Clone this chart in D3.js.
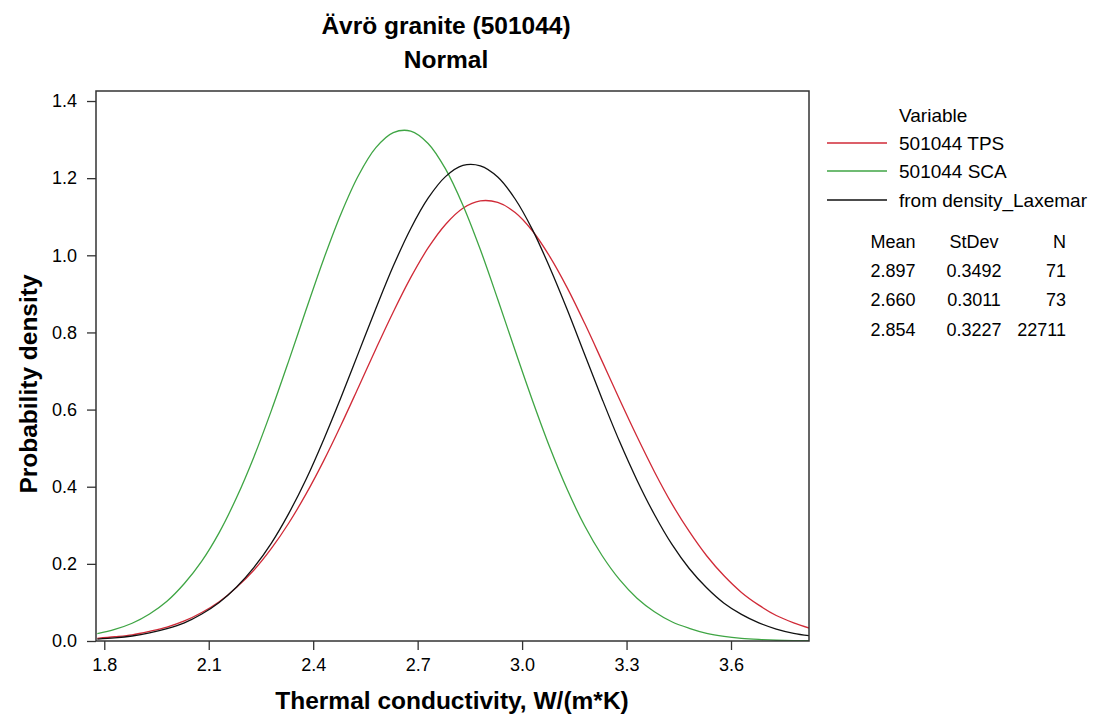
<!DOCTYPE html>
<html>
<head>
<meta charset="utf-8">
<script src="https://d3js.org/d3.v7.min.js"></script>
<style>
body { margin:0; background:#fff; }
text { font-family: "Liberation Sans", Arial, Helvetica, sans-serif; fill:#000; }
</style>
</head>
<body>
<div id="chart"></div>
<script>
// 곡선 데이터
var xVals = [1.78,1.83,1.88,1.93,1.98,2.03,2.08,2.13,2.18,2.23,2.28,2.33,2.38,2.43,2.48,2.53,2.58,2.63,2.68,2.73,2.78,2.83,2.88,2.93,2.98,3.03,3.08,3.13,3.18,3.23,3.28,3.33,3.38,3.43,3.48,3.53,3.58,3.63,3.68,3.73,3.78,3.83];

var tpsVals = [0.007,0.011,0.016,0.025,0.036,0.052,0.074,0.102,0.139,0.184,0.240,0.306,0.382,0.467,0.560,0.658,0.757,0.853,0.942,1.019,1.080,1.122,1.141,1.137,1.111,1.063,0.996,0.915,0.823,0.725,0.626,0.530,0.439,0.356,0.284,0.221,0.169,0.126,0.093,0.066,0.047,0.032];

var scaVals = [0.019,0.030,0.046,0.070,0.103,0.149,0.207,0.281,0.372,0.478,0.598,0.727,0.860,0.990,1.108,1.207,1.279,1.318,1.322,1.290,1.224,1.130,1.015,0.886,0.753,0.623,0.501,0.392,0.298,0.221,0.159,0.111,0.076,0.050,0.033,0.020,0.012,0.007,0.004,0.002,0.001,0.001];

var laxVals = [0.005,0.008,0.013,0.021,0.032,0.047,0.070,0.100,0.140,0.191,0.254,0.331,0.420,0.522,0.632,0.747,0.862,0.972,1.069,1.148,1.204,1.233,1.232,1.203,1.146,1.066,0.967,0.858,0.742,0.627,0.517,0.417,0.328,0.251,0.188,0.138,0.098,0.069,0.047,0.031,0.020,0.013];

var seriesNames = ["501044 TPS","501044 SCA","from density_Laxemar"];
var seriesColors = ["#d02a37","#3fa544","#111111"];

var statHeader = ["Mean","StDev","N"];
var statMean = ["2.897","2.660","2.854"];
var statStDev = ["0.3492","0.3011","0.3227"];
var statN = ["71","73","22711"];

var xTicks = [1.8,2.1,2.4,2.7,3.0,3.3,3.6];
var yTicks = [0.0,0.2,0.4,0.6,0.8,1.0,1.2,1.4];

var W = 1099, H = 718;
var plot = {left:96, right:809, top:91, bottom:641};

var svg = d3.select("#chart").append("svg")
	.attr("width", W)
	.attr("height", H);

var x = d3.scaleLinear().domain([1.7762, 3.824]).range([plot.left, plot.right]);
var y = d3.scaleLinear().domain([0, 1.4]).range([plot.bottom, plot.bottom - 1.4*385.7]);

// 제목
svg.append("text")
	.attr("x", 446).attr("y", 34)
	.attr("text-anchor", "middle")
	.attr("font-size", "24.5px").attr("font-weight", "bold")
	.text("Ävrö granite (501044)");
svg.append("text")
	.attr("x", 446).attr("y", 68)
	.attr("text-anchor", "middle")
	.attr("font-size", "24.5px").attr("font-weight", "bold")
	.text("Normal");

// 곡선
svg.append("clipPath").attr("id", "clip")
	.append("rect")
	.attr("x", plot.left).attr("y", plot.top)
	.attr("width", plot.right - plot.left).attr("height", plot.bottom - plot.top);

var lineGen = d3.line()
	.x(function(d){ return x(d[0]); })
	.y(function(d){ return y(d[1]); })
	.curve(d3.curveCatmullRom);

[tpsVals, scaVals, laxVals].forEach(function(vals, i){
	var pts = xVals.map(function(v, j){ return [v, vals[j]]; });
	svg.append("path")
		.attr("clip-path", "url(#clip)")
		.attr("d", lineGen(pts))
		.attr("fill", "none")
		.attr("stroke", seriesColors[i])
		.attr("stroke-width", 1.3);
});

// 축 틀
svg.append("rect")
	.attr("x", plot.left).attr("y", plot.top)
	.attr("width", plot.right - plot.left).attr("height", plot.bottom - plot.top)
	.attr("fill", "none").attr("stroke", "#333").attr("stroke-width", 1.5);

var xAxis = svg.append("g")
	.attr("transform", "translate(0," + plot.bottom + ")")
	.call(d3.axisBottom(x).tickValues(xTicks).tickSize(9).tickPadding(8).tickFormat(d3.format(".1f")));
var yAxis = svg.append("g")
	.attr("transform", "translate(" + plot.left + ",0)")
	.call(d3.axisLeft(y).tickValues(yTicks).tickSize(9).tickPadding(10).tickFormat(d3.format(".1f")));

[xAxis, yAxis].forEach(function(g){
	g.select(".domain").remove();
	g.selectAll(".tick line").attr("stroke", "#333").attr("stroke-width", 1.3);
	g.selectAll(".tick text").attr("font-size", "18px").attr("fill", "#000")
		.style("font-family", "'Liberation Sans', Arial, sans-serif");
});

svg.append("text")
	.attr("x", 452).attr("y", 709)
	.attr("text-anchor", "middle")
	.attr("font-size", "24.5px").attr("font-weight", "bold")
	.text("Thermal conductivity, W/(m*K)");
svg.append("text")
	.attr("transform", "translate(37,384) rotate(-90)")
	.attr("text-anchor", "middle")
	.attr("font-size", "24.5px").attr("font-weight", "bold")
	.text("Probability density");

// 범례
var legend = svg.append("g").attr("class", "legend");
legend.append("text")
	.attr("x", 899).attr("y", 122)
	.attr("font-size", "19px")
	.text("Variable");
var legendY = [143, 171, 200];
seriesNames.forEach(function(name, i){
	legend.append("line")
		.attr("x1", 827).attr("x2", 887)
		.attr("y1", legendY[i]).attr("y2", legendY[i])
		.attr("stroke", seriesColors[i]).attr("stroke-width", 1.3);
	legend.append("text")
		.attr("x", 899).attr("y", legendY[i] + 7)
		.attr("font-size", "19px")
		.text(name);
});

var rowY = [248, 277, 306, 336];
var colX = [893, 974, 1066];
var colAnchor = ["middle", "middle", "end"];
var rows = [statHeader].concat(statMean.map(function(m, i){ return [m, statStDev[i], statN[i]]; }));
rows.forEach(function(r, i){
	r.forEach(function(t, j){
		legend.append("text")
			.attr("x", colX[j]).attr("y", rowY[i])
			.attr("text-anchor", colAnchor[j])
			.attr("font-size", "18px")
			.text(t);
	});
});
</script>
</body>
</html>
